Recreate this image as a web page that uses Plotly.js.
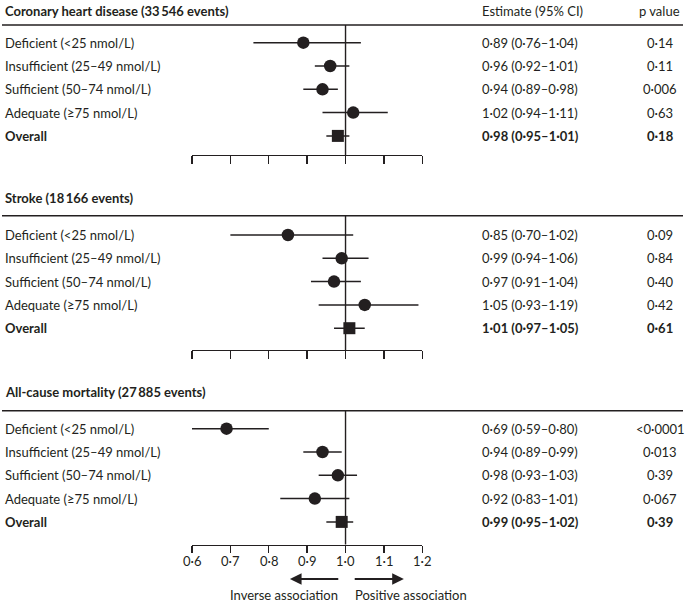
<!DOCTYPE html>
<html>
<head>
<meta charset="utf-8">
<script src="https://cdn.plot.ly/plotly-3.0.1.min.js"></script>
<style>html,body{margin:0;padding:0;background:#fff}#chart{width:692px;height:603px}</style>
</head>
<body>
<div id="chart"></div>
<script>
// ---------- data ----------
var categories = ["Deficient (<25 nmol/L)", "Insufficient (25–49 nmol/L)", "Sufficient (50–74 nmol/L)", "Adequate (≥75 nmol/L)", "Overall"];
var panelTitles = ["Coronary heart disease (33\u2009546 events)", "Stroke (18\u2009166 events)", "All-cause mortality (27\u2009885 events)"];

var chdEst = [0.89, 0.96, 0.94, 1.02, 0.98];
var chdLo  = [0.76, 0.92, 0.89, 0.94, 0.95];
var chdHi  = [1.04, 1.01, 0.98, 1.11, 1.01];
var chdP   = ["0·14", "0·11", "0·006", "0·63", "0·18"];

var strokeEst = [0.85, 0.99, 0.97, 1.05, 1.01];
var strokeLo  = [0.70, 0.94, 0.91, 0.93, 0.97];
var strokeHi  = [1.02, 1.06, 1.04, 1.19, 1.05];
var strokeP   = ["0·09", "0·84", "0·40", "0·42", "0·61"];

var mortEst = [0.69, 0.94, 0.98, 0.92, 0.99];
var mortLo  = [0.59, 0.89, 0.93, 0.83, 0.95];
var mortHi  = [0.80, 0.99, 1.03, 1.01, 1.02];
var mortP   = ["<0·0001", "0·013", "0·39", "0·067", "0·39"];

var tickVals = [0.6, 0.7, 0.8, 0.9, 1.0, 1.1, 1.2];
var tickText = ["0·6", "0·7", "0·8", "0·9", "1·0", "1·1", "1·2"];

// ---------- layout geometry (pixels) ----------
var W = 692, H = 603;
var INK = "#231f20";
var FONT = "Lato, 'Noto Sans', sans-serif";
var FS = 13;
var xLeftPx = 192, xRightPx = 422.3;
var rowStep = 23.3;
var panels = [
  {est: chdEst, lo: chdLo, hi: chdHi, p: chdP, titleY: 11, lineY: 25, row0: 42.7, axisY: 155},
  {est: strokeEst, lo: strokeLo, hi: strokeHi, p: strokeP, titleY: 198, lineY: 215.7, row0: 235, axisY: 350},
  {est: mortEst, lo: mortLo, hi: mortHi, p: mortP, titleY: 392, lineY: 410.7, row0: 428.7, axisY: 544.5}
];

function fmt(v) { return v.toFixed(2).replace(".", "·"); }
function py(px) { return 1 - px / H; }

var data = [], annotations = [], shapes = [];
var layout = {
  width: W, height: H,
  margin: {l: 0, r: 0, t: 0, b: 0},
  paper_bgcolor: "#fff", plot_bgcolor: "rgba(0,0,0,0)",
  showlegend: false,
  font: {family: FONT, size: FS, color: INK}
};

var rowIdx = [0, 1, 2, 3, 4];

panels.forEach(function (pn, k) {
  var xa = k === 0 ? "x" : "x" + (k + 1);
  var ya = k === 0 ? "y" : "y" + (k + 1);
  var xKey = k === 0 ? "xaxis" : "xaxis" + (k + 1);
  var yKey = k === 0 ? "yaxis" : "yaxis" + (k + 1);

  layout[xKey] = {
    domain: [xLeftPx / W, xRightPx / W],
    range: [0.6, 1.2],
    anchor: ya,
    showline: true, linecolor: INK, linewidth: 1.4,
    ticks: "outside", ticklen: k === 2 ? 7 : 8, tickwidth: 1.4, tickcolor: INK,
    tickvals: tickVals, ticktext: tickText,
    showticklabels: false,
    showgrid: false, zeroline: false, fixedrange: true
  };
  layout[yKey] = {
    domain: [py(pn.axisY), py(pn.lineY)],
    range: [(pn.axisY - pn.row0) / rowStep, (pn.lineY - pn.row0) / rowStep],
    anchor: xa,
    visible: false, showgrid: false, zeroline: false, fixedrange: true
  };

  var plus = pn.hi.map(function (h, i) { return h - pn.est[i]; });
  var minus = pn.lo.map(function (l, i) { return pn.est[i] - l; });

  // circles (rows 0-3)
  data.push({
    type: "scatter", mode: "markers",
    x: pn.est.slice(0, 4), y: rowIdx.slice(0, 4),
    xaxis: xa, yaxis: ya,
    marker: {symbol: "circle", size: 12.5, color: INK},
    error_x: {type: "data", symmetric: false, array: plus.slice(0, 4), arrayminus: minus.slice(0, 4),
              color: INK, thickness: 1.5, width: 0},
    hoverinfo: "skip", cliponaxis: false
  });
  // overall square
  data.push({
    type: "scatter", mode: "markers",
    x: pn.est.slice(4), y: rowIdx.slice(4),
    xaxis: xa, yaxis: ya,
    marker: {symbol: "square", size: 12, color: INK},
    error_x: {type: "data", symmetric: false, array: plus.slice(4), arrayminus: minus.slice(4),
              color: INK, thickness: 1.5, width: 0},
    hoverinfo: "skip", cliponaxis: false
  });

  // reference line at 1.0
  shapes.push({type: "line", xref: xa, yref: ya + " domain", x0: 1, x1: 1, y0: 0, y1: 1,
               line: {color: INK, width: 1.4}});
  // header rule
  shapes.push({type: "line", xref: "paper", yref: "paper", x0: 2 / W, x1: 683 / W,
               y0: py(pn.lineY), y1: py(pn.lineY), line: {color: INK, width: 1.6}});

  // panel title
  annotations.push({xref: "paper", yref: "paper", x: 3 / W, y: py(pn.titleY), xanchor: "left", yanchor: "middle",
                    text: "<b>" + panelTitles[k] + "</b>", showarrow: false,
                    font: {family: FONT, size: FS, color: INK}});

  rowIdx.forEach(function (i) {
    var bold = i === 4;
    var wrap = function (s) { return bold ? "<b>" + s + "</b>" : s; };
    var label = categories[i].replace("<", "&lt;");
    annotations.push({xref: "paper", yref: ya, x: 3 / W, y: i, xanchor: "left", yanchor: "middle",
                      text: wrap(label), showarrow: false});
    annotations.push({xref: "paper", yref: ya, x: 480 / W, y: i, xanchor: "left", yanchor: "middle",
                      text: wrap(fmt(pn.est[i]) + " (" + fmt(pn.lo[i]) + "–" + fmt(pn.hi[i]) + ")"), showarrow: false});
    annotations.push({xref: "paper", yref: ya, x: 660 / W, y: i, xanchor: "center", yanchor: "middle",
                      text: wrap(pn.p[i].replace("<", "&lt;")), showarrow: false});
  });
});

// tick labels for bottom axis
tickVals.forEach(function (v, i) {
  annotations.push({xref: "x3", yref: "paper", x: v, y: py(561), xanchor: "center", yanchor: "middle",
                    text: tickText[i], showarrow: false});
});

// column headers
annotations.push({xref: "paper", yref: "paper", x: 480 / W, y: py(11), xanchor: "left", yanchor: "middle",
                  text: "Estimate (95% CI)", showarrow: false});
annotations.push({xref: "paper", yref: "paper", x: 659 / W, y: py(11), xanchor: "center", yanchor: "middle",
                  text: "p value", showarrow: false});

// direction arrows
var arrowY = py(579);
annotations.push({xref: "x3", yref: "paper", axref: "x3", ayref: "paper",
                  x: 0.855, y: arrowY, ax: 0.985, ay: arrowY, text: "", showarrow: true,
                  arrowhead: 2, arrowsize: 1.3, arrowwidth: 1.8, arrowcolor: INK});
annotations.push({xref: "x3", yref: "paper", axref: "x3", ayref: "paper",
                  x: 1.152, y: arrowY, ax: 1.02, ay: arrowY, text: "", showarrow: true,
                  arrowhead: 2, arrowsize: 1.3, arrowwidth: 1.8, arrowcolor: INK});
annotations.push({xref: "paper", yref: "paper", x: 340 / W, y: py(595), xanchor: "right", yanchor: "middle",
                  text: "Inverse association", showarrow: false});
annotations.push({xref: "paper", yref: "paper", x: 353 / W, y: py(595), xanchor: "left", yanchor: "middle",
                  text: "Positive association", showarrow: false});

layout.annotations = annotations;
layout.shapes = shapes;

Plotly.newPlot("chart", data, layout, {displayModeBar: false, staticPlot: true});
</script>
</body>
</html>
